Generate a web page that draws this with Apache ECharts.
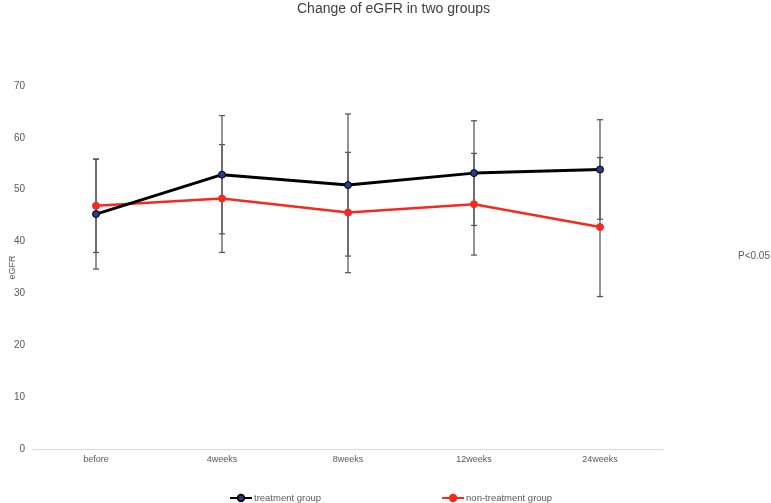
<!DOCTYPE html>
<html>
<head>
<meta charset="utf-8">
<title>Change of eGFR in two groups</title>
<script src="https://cdn.jsdelivr.net/npm/echarts@6/dist/echarts.min.js"></script>
<style>
  html, body { margin: 0; padding: 0; background: #fff; }
  #main { width: 771px; height: 503px; }
</style>
</head>
<body>
<div id="main"></div>
<script>
// 时间点
var categories = ['before', '4weeks', '8weeks', '12weeks', '24weeks'];
// 治疗组 均值 / 标准差
var treatMean = [45.3, 52.9, 50.9, 53.2, 53.9];
var treatSd = [10.6, 11.4, 13.7, 10.1, 9.6];
// 非治疗组 均值 / 标准差
var nonTreatMean = [46.9, 48.3, 45.6, 47.2, 42.8];
var nonTreatSd = [9.0, 10.4, 11.6, 9.8, 13.4];
var yTicks = [0, 10, 20, 30, 40, 50, 60, 70];

function errData(mean, sd) {
  var out = [];
  for (var i = 0; i < mean.length; i++) {
    out.push([i, mean[i] - sd[i], mean[i] + sd[i]]);
  }
  return out;
}

// 误差线
function renderErr(params, api) {
  var lo = api.coord([api.value(0), api.value(1)]);
  var hi = api.coord([api.value(0), api.value(2)]);
  var w = 3;
  var style = { stroke: '#5a5a5a', lineWidth: 1.3 };
  return {
    type: 'group',
    children: [
      { type: 'line', shape: { x1: hi[0], y1: hi[1], x2: lo[0], y2: lo[1] }, style: style },
      { type: 'line', shape: { x1: hi[0] - w, y1: hi[1], x2: hi[0] + w, y2: hi[1] }, style: style },
      { type: 'line', shape: { x1: lo[0] - w, y1: lo[1], x2: lo[0] + w, y2: lo[1] }, style: style }
    ]
  };
}

var chart = echarts.init(document.getElementById('main'));
chart.setOption({
  backgroundColor: '#fff',
  animation: false,
  textStyle: { fontFamily: 'Liberation Sans, Arial, sans-serif' },
  title: {
    text: 'Change of eGFR in two groups',
    left: 292,
    top: -3,
    textStyle: { fontSize: 14, fontWeight: 'normal', color: '#404040', fontFamily: 'Liberation Sans, Arial, sans-serif' }
  },
  legend: {
    top: 488,
    left: 224,
    itemGap: 120,
    itemWidth: 22,
    itemHeight: 8,
    data: ['treatment group', 'non-treatment group'],
    textStyle: { fontSize: 9.5, color: '#595959', padding: [0, 0, 0, -3] }
  },
  grid: { left: 33, right: 108, top: 86, bottom: 54, containLabel: false, outerBoundsMode: 'none' },
  xAxis: {
    type: 'category',
    data: categories,
    axisLine: { lineStyle: { color: '#d9d9d9' } },
    axisTick: { show: false },
    axisLabel: { fontSize: 9, color: '#595959', margin: 6 }
  },
  yAxis: {
    type: 'value',
    min: yTicks[0],
    max: yTicks[yTicks.length - 1],
    interval: 10,
    name: 'eGFR',
    nameLocation: 'middle',
    nameGap: 16,
    nameMoveOverlap: false,
    nameTextStyle: { fontSize: 9, color: '#595959' },
    axisLine: { show: false },
    axisTick: { show: false },
    splitLine: { show: false },
    axisLabel: { fontSize: 10, color: '#595959', margin: 8 }
  },
  graphic: [{
    type: 'text',
    left: 738,
    top: 251,
    style: { text: 'P<0.05', fontSize: 10, fill: '#595959', fontFamily: 'Liberation Sans, Arial, sans-serif' }
  }],
  series: [
    {
      type: 'custom',
      renderItem: renderErr,
      data: errData(treatMean, treatSd),
      encode: { x: 0, y: [1, 2] },
      z: 1,
      silent: true
    },
    {
      type: 'custom',
      renderItem: renderErr,
      data: errData(nonTreatMean, nonTreatSd),
      encode: { x: 0, y: [1, 2] },
      z: 1,
      silent: true
    },
    {
      name: 'treatment group',
      type: 'line',
      data: treatMean,
      z: 3,
      symbol: 'circle',
      symbolSize: 7,
      lineStyle: { color: '#000', width: 3 },
      itemStyle: { color: '#2b3a8c', borderColor: '#000', borderWidth: 1 }
    },
    {
      name: 'non-treatment group',
      type: 'line',
      data: nonTreatMean,
      z: 2,
      symbol: 'circle',
      symbolSize: 7,
      lineStyle: { color: '#f52a1e', width: 2.5 },
      itemStyle: { color: '#f52a1e', borderColor: '#f52a1e', borderWidth: 1 }
    }
  ]
});
</script>
</body>
</html>
